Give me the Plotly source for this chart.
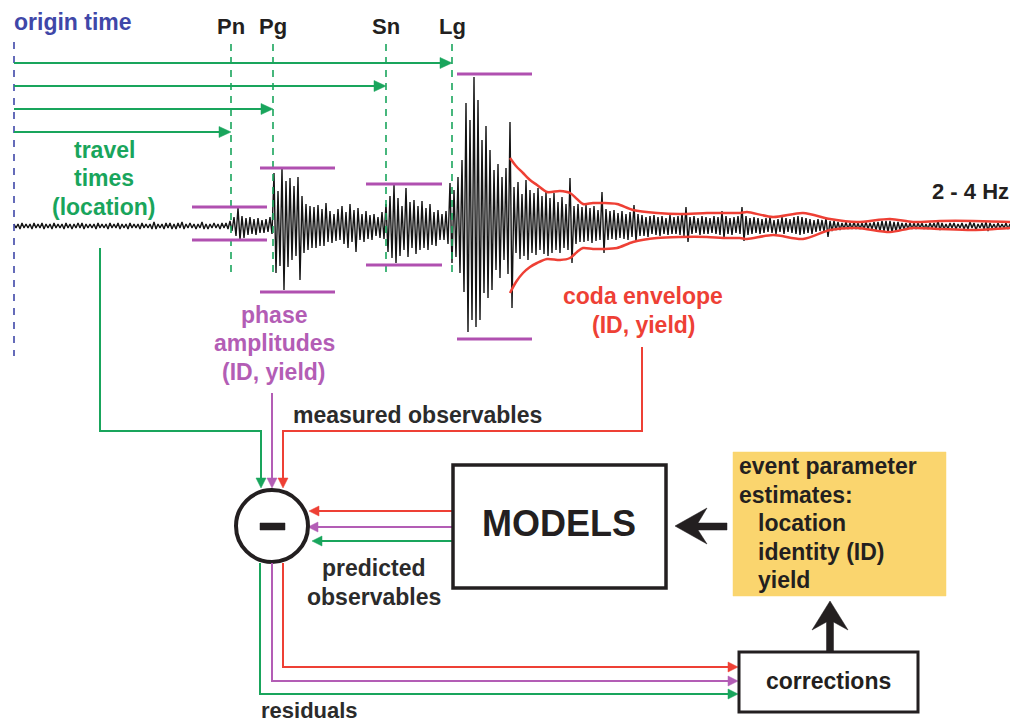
import plotly.graph_objects as go

# ---------------- data ----------------
# seismic phases: names and arrival positions (time axis, px)
phase_names = ["Pn", "Pg", "Sn", "Lg"]
phase_x = [231, 273, 386, 452]
travel_arrow_y = [132, 109, 86, 63]          # one travel-time arrow per phase

# measured phase amplitudes: bar top / bottom and bar span
amp_top = [207, 168, 184, 74]
amp_bot = [240, 292, 265, 339]
amp_x0 = [192, 260, 366, 457]
amp_x1 = [267, 335, 442, 532]

# coda envelope (upper and lower)
coda_x = [510, 516, 523, 530, 537, 547, 560, 570, 577, 583, 593, 603, 617, 633, 657,
          680, 707, 723, 740, 747, 773, 803, 830, 857, 890, 913, 940, 973, 1010]
coda_top = [158, 166, 173, 180, 185, 192, 191, 193, 199, 204, 203, 203, 204, 210, 213,
            214, 213, 213, 213, 212, 217, 213, 219, 222, 219, 222, 221, 221, 222]
coda_bot = [293, 282, 273, 267, 263, 259, 260, 258, 252, 248, 249, 249, 248, 242, 238,
            237, 237, 238, 238, 239, 235, 239, 230, 228, 232, 228, 229, 230, 228]

# 2-4 Hz seismogram: peak excursion above (up) and below (dn) the baseline,
# one sample every 4 px starting at x = 15
wave_up = (
    # pre-event noise 15..227
    [2, 2, 3, 2, 2, 3, 2, 3, 2, 2, 3, 2, 2, 3, 2, 2, 3, 3, 2, 2,
     2, 3, 2, 2, 3, 2, 3, 2, 2, 3, 2, 2, 3, 2, 2, 4, 2, 2, 3, 3,
     2, 3, 4, 2, 3, 2, 2, 4, 2, 2, 3, 2, 3, 3]
    # Pn 231..271
    + [5, 9, 18, 10, 8, 9, 7, 8, 6, 7, 9]
    # Pg 275..383
    + [53, 35, 58, 45, 48, 40, 49, 30, 22, 20, 19, 21, 17, 23, 15, 12, 17, 20, 14, 22,
       16, 18, 12, 15, 11, 12, 9, 14]
    # Sn 387..447
    + [22, 30, 41, 28, 20, 38, 24, 26, 20, 25, 18, 22, 14, 16, 12, 15]
    # Lg 451..567
    + [43, 36, 49, 66, 123, 106, 149, 126, 86, 100, 76, 56, 62, 49, 58, 104, 39, 44, 32, 46,
       36, 33, 38, 30, 34, 28, 33, 24, 29, 22]
    # coda 571..827
    + [48, 20, 22, 19, 21, 18, 20, 16, 34, 17, 15, 16, 13, 15, 12, 14, 21, 12, 11, 9,
       10, 11, 9, 10, 8, 11, 9, 10, 13, 19, 9, 10, 8, 10, 9, 8, 10, 9, 15, 10,
       8, 9, 10, 19, 10, 8, 9, 8, 7, 8, 9, 6, 7, 9, 8, 7, 9, 10, 9, 8,
       7, 6, 7, 6, 8]
    # late coda 831..1011
    + [5, 5, 4, 3, 4, 3, 4, 3, 3, 4, 3, 4, 4, 5, 5, 5, 4, 4, 3, 3,
       3, 3, 3, 3, 2, 3, 3, 5, 3, 2, 3, 3, 2, 3, 2, 4, 3, 2, 3, 4,
       3, 2, 3, 2, 3, 2]
)
wave_dn = (
    [2, 3, 2, 2, 3, 2, 2, 3, 2, 3, 2, 2, 3, 2, 3, 2, 2, 3, 2, 2,
     3, 2, 2, 3, 2, 2, 3, 2, 3, 2, 2, 3, 2, 2, 3, 3, 2, 3, 2, 3,
     3, 2, 3, 2, 2, 3, 2, 3, 3, 2, 2, 3, 2, 3]
    + [5, 10, 14, 12, 9, 8, 9, 7, 7, 6, 8]
    + [47, 40, 64, 41, 34, 30, 54, 27, 24, 22, 22, 20, 20, 16, 17, 15, 14, 18, 22, 16,
       26, 14, 16, 13, 14, 10, 12, 13]
    + [26, 32, 37, 30, 24, 31, 22, 28, 24, 22, 24, 19, 20, 14, 14, 18]
    + [37, 31, 47, 66, 106, 94, 101, 94, 67, 72, 64, 44, 52, 34, 48, 82, 27, 33, 30, 34,
       27, 29, 24, 28, 30, 27, 24, 27, 22, 24]
    + [37, 18, 16, 16, 15, 17, 15, 14, 27, 14, 13, 14, 12, 13, 14, 11, 16, 10, 10, 11,
       8, 9, 10, 8, 9, 8, 8, 9, 10, 16, 8, 7, 9, 8, 8, 7, 8, 9, 12, 8,
       9, 7, 8, 15, 9, 8, 7, 8, 7, 6, 7, 8, 6, 8, 6, 7, 8, 9, 8, 7,
       8, 6, 5, 6, 11]
    + [5, 4, 4, 3, 3, 3, 3, 3, 3, 3, 3, 4, 5, 5, 6, 6, 5, 4, 3, 3,
       3, 3, 2, 3, 3, 2, 3, 4, 3, 3, 2, 3, 2, 3, 3, 2, 4, 2, 3, 5,
       2, 3, 2, 2, 3, 2]
)

# ---------------- styling ----------------
W, H = 1010, 723
BASE_Y = 226
WAVE_X0, WAVE_DX = 15, 4
GREEN = "#19a55c"
MAGENTA = "#b35db5"
RED = "#ee4035"
BLUE = "#3f47a8"
BLACK = "#231f20"
YELLOW = "#fad56e"
FONT = "Liberation Sans, Arial, sans-serif"

fig = go.Figure()
shapes = []
annotations = []


def seg(pts, color, width, dash=None):
    path = "M " + " L ".join(f"{x},{y}" for x, y in pts)
    ln = dict(color=color, width=width)
    if dash:
        ln["dash"] = dash
    shapes.append(dict(type="path", path=path, line=ln, xref="x", yref="y"))


def poly(pts, color):
    path = "M " + " L ".join(f"{x},{y}" for x, y in pts) + " Z"
    shapes.append(dict(type="path", path=path, fillcolor=color,
                       line=dict(color=color, width=0.5), xref="x", yref="y"))


def head(tx, ty, d, color, L=10, h=5):
    if d == "right":
        pts = [(tx, ty), (tx - L, ty - h), (tx - L, ty + h)]
    elif d == "left":
        pts = [(tx, ty), (tx + L, ty - h), (tx + L, ty + h)]
    elif d == "down":
        pts = [(tx, ty), (tx - h, ty - L), (tx + h, ty - L)]
    else:
        pts = [(tx, ty), (tx - h, ty + L), (tx + h, ty + L)]
    poly(pts, color)


def text(t, x, y, color, size=23, xanchor="center"):
    annotations.append(dict(text=f"<b>{t}</b>", x=x, y=y, xref="x", yref="y",
                            showarrow=False, xanchor=xanchor, yanchor="middle",
                            font=dict(family=FONT, size=size, color=color)))


def rect(x0, y0, x1, y1, line_color, fill, width):
    shapes.append(dict(type="rect", x0=x0, y0=y0, x1=x1, y1=y1, xref="x", yref="y",
                       line=dict(color=line_color, width=width), fillcolor=fill))


# ---------------- seismogram ----------------
wx, wy = [], []
for i, (u, d) in enumerate(zip(wave_up, wave_dn)):
    x = WAVE_X0 + WAVE_DX * i
    wx += [x - 1, x + 1]
    wy += [BASE_Y - u, BASE_Y + d]
fig.add_trace(go.Scatter(x=wx, y=wy, mode="lines", line=dict(color="#141414", width=1.4),
                         hoverinfo="skip", showlegend=False))

# coda envelope
for ys in (coda_top, coda_bot):
    fig.add_trace(go.Scatter(x=coda_x, y=ys, mode="lines",
                             line=dict(color=RED, width=2.5, shape="spline", smoothing=0.8),
                             hoverinfo="skip", showlegend=False))

# origin time dashed line
seg([(14, 42), (14, 356)], BLUE, 1.6, "7px,7px")

# phase dashed lines, labels, travel-time arrows
for name, px, ay in zip(phase_names, phase_x, travel_arrow_y):
    seg([(px, 44), (px, 278)], GREEN, 1.6, "7px,6px")
    text(name, px, 26, BLACK, 22)
    seg([(14, ay), (px - 10, ay)], GREEN, 1.8)
    head(px, ay, "right", GREEN, 12, 5.5)

# phase amplitude bars
for t, b, x0, x1 in zip(amp_top, amp_bot, amp_x0, amp_x1):
    seg([(x0, t), (x1, t)], "#b050b0", 3)
    seg([(x0, b), (x1, b)], "#b050b0", 3)

# ---------------- texts (upper part) ----------------
text("origin time", 12, 22, BLUE, 23, "left")
text("travel", 104, 150, GREEN)
text("times", 104, 178, GREEN)
text("(location)", 104, 207, GREEN)
text("2 - 4 Hz", 930, 191, BLACK, 22, "left")
text("phase", 274, 315, MAGENTA)
text("amplitudes", 274, 343, MAGENTA)
text("(ID, yield)", 274, 372, MAGENTA)
text("coda envelope", 643, 296, RED)
text("(ID, yield)", 644, 325, RED)
text("measured observables", 417, 415, "#2b2b2b", 23)

# ---------------- measured observable routes ----------------
seg([(100, 248), (100, 431), (261, 431), (261, 479)], GREEN, 2)
head(261, 488, "down", GREEN)
seg([(272, 393), (272, 479)], MAGENTA, 2)
head(272, 488, "down", MAGENTA)
seg([(642, 347), (642, 431), (283, 431), (283, 479)], RED, 2)
head(283, 488, "down", RED)

# predicted observables from MODELS
seg([(453, 511), (318, 511)], RED, 2)
head(309, 511, "left", RED)
seg([(453, 527), (317, 527)], MAGENTA, 2)
head(308, 527, "left", MAGENTA)
seg([(453, 541), (321, 541)], GREEN, 2)
head(312, 541, "left", GREEN)

# difference node
shapes.append(dict(type="circle", x0=236, y0=490, x1=308, y1=562, xref="x", yref="y",
                   line=dict(color=BLACK, width=4), fillcolor="white"))
rect(260, 523, 285, 530, BLACK, BLACK, 0.5)

# residual routes to corrections
seg([(283, 563), (283, 667), (728, 667)], RED, 2)
head(738, 667, "right", RED)
seg([(272, 563), (272, 681), (728, 681)], MAGENTA, 2)
head(738, 681, "right", MAGENTA)
seg([(260, 563), (260, 694), (728, 694)], GREEN, 2)
head(738, 694, "right", GREEN)

# boxes
rect(453, 465, 666, 588, BLACK, "white", 3.5)
text("MODELS", 559, 523, BLACK, 36)
rect(733, 452, 946, 596, YELLOW, YELLOW, 0.5)
text("event parameter", 737, 466, BLACK, 23, "left")
text("estimates:", 737, 495, BLACK, 23, "left")
text("location", 756, 523, BLACK, 23, "left")
text("identity (ID)", 756, 552, BLACK, 23, "left")
text("yield", 756, 580, BLACK, 23, "left")
rect(739, 652, 918, 712, BLACK, "white", 3)
text("corrections", 828, 681, BLACK, 23)

# big black arrows
poly([(675, 526), (707, 508), (698, 523), (727, 523), (727, 530), (698, 530), (707, 544)], BLACK)
poly([(830, 601), (812, 630), (826.5, 622), (826.5, 652), (833.5, 652), (833.5, 622), (848, 630)], BLACK)

text("predicted", 374, 568, "#2b2b2b")
text("observables", 374, 597, "#2b2b2b")
text("residuals", 259, 710, "#2b2b2b", 22, "left")

fig.update_layout(
    width=W, height=H, margin=dict(l=0, r=0, t=0, b=0),
    paper_bgcolor="white", plot_bgcolor="white",
    xaxis=dict(range=[0, W], visible=False, fixedrange=True),
    yaxis=dict(range=[H, 0], visible=False, fixedrange=True),
    shapes=shapes, annotations=annotations, showlegend=False,
)
fig.write_html("out.html", config={"displayModeBar": False},
               post_script="document.body.style.margin='0';document.body.style.overflow='hidden';")
